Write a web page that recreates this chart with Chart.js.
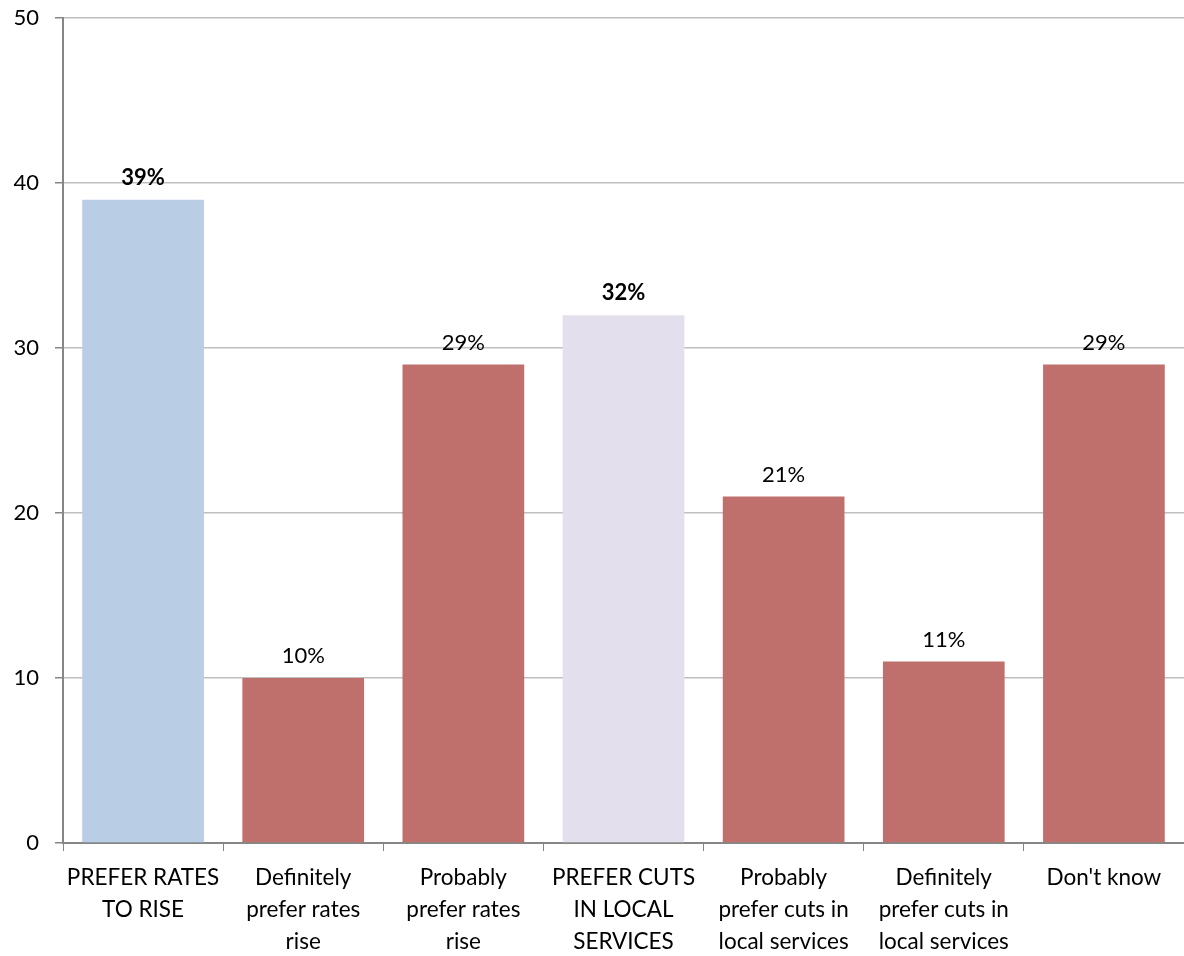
<!DOCTYPE html>
<html>
<head>
<meta charset="utf-8">
<script src="https://cdn.jsdelivr.net/npm/chart.js@4"></script>
<style>
  body { margin: 0; background: #fff; overflow: hidden; }
  /* pulled up a little so the plot top sits near the page edge */
  #wrap { width: 1184px; height: 967px; position: relative; margin-top: -11px; }
</style>
</head>
<body>
<div id="wrap"><canvas id="chart"></canvas></div>
<script>
// categories and values
const categories = [
  ["PREFER RATES", "TO RISE"],
  ["Definitely", "prefer rates", "rise"],
  ["Probably", "prefer rates", "rise"],
  ["PREFER CUTS", "IN LOCAL", "SERVICES"],
  ["Probably", "prefer cuts in", "local services"],
  ["Definitely", "prefer cuts in", "local services"],
  ["Don't know"],
];
const values = [39, 10, 29, 32, 21, 11, 29];
const summaryRows = [true, false, false, true, false, false, false]; // bold labels
const yTicks = [0, 10, 20, 30, 40, 50];

const barColors = ["#B9CDE5", "#C0706C", "#C0706C", "#E4DFEC", "#C0706C", "#C0706C", "#C0706C"];
const FONT = "Lato, 'Open Sans', sans-serif";

// value labels above each bar
const valueLabels = {
  id: "valueLabels",
  afterDatasetsDraw(chart) {
    const { ctx } = chart;
    const meta = chart.getDatasetMeta(0);
    ctx.save();
    ctx.textAlign = "center";
    ctx.textBaseline = "middle";
    ctx.fillStyle = "#000";
    meta.data.forEach((bar, i) => {
      ctx.font = (summaryRows[i] ? "bold " : "") + "22px " + FONT;
      ctx.fillText(values[i] + "%", bar.x, bar.y - 22);
    });
    ctx.restore();
  },
};

const ctx = document.getElementById("chart");
new Chart(ctx, {
  type: "bar",
  data: {
    labels: categories,
    datasets: [
      {
        data: values,
        backgroundColor: barColors,
        barPercentage: 0.76,
        categoryPercentage: 1,
      },
    ],
  },
  options: {
    responsive: true,
    maintainAspectRatio: false,
    animation: false,
    layout: { padding: { top: 17, right: 0, left: 0, bottom: 0 } },
    plugins: { legend: { display: false }, tooltip: { enabled: false } },
    scales: {
      x: {
        grid: {
          offset: true,
          drawOnChartArea: false,
          drawTicks: true,
          tickLength: 8,
          color: "#868686",
        },
        border: { color: "#868686", width: 2 },
        ticks: {
          color: "#000",
          font: { family: FONT, size: 22.5, lineHeight: 1.42 },
          padding: 11,
          maxRotation: 0,
          autoSkip: false,
        },
        afterFit(scale) {
          scale.height = 113;
        },
      },
      y: {
        min: 0,
        max: 50,
        afterBuildTicks(scale) {
          scale.ticks = yTicks.map((v) => ({ value: v }));
        },
        grid: {
          color: "#BFBFBF",
          lineWidth: 1.5,
          tickLength: 8,
          tickColor: "#868686",
        },
        border: { color: "#868686", width: 2 },
        ticks: {
          color: "#000",
          font: { family: FONT, size: 22 },
          padding: 16,
        },
        afterFit(scale) {
          scale.width = 63;
        },
      },
    },
  },
  plugins: [valueLabels],
});
</script>
</body>
</html>
